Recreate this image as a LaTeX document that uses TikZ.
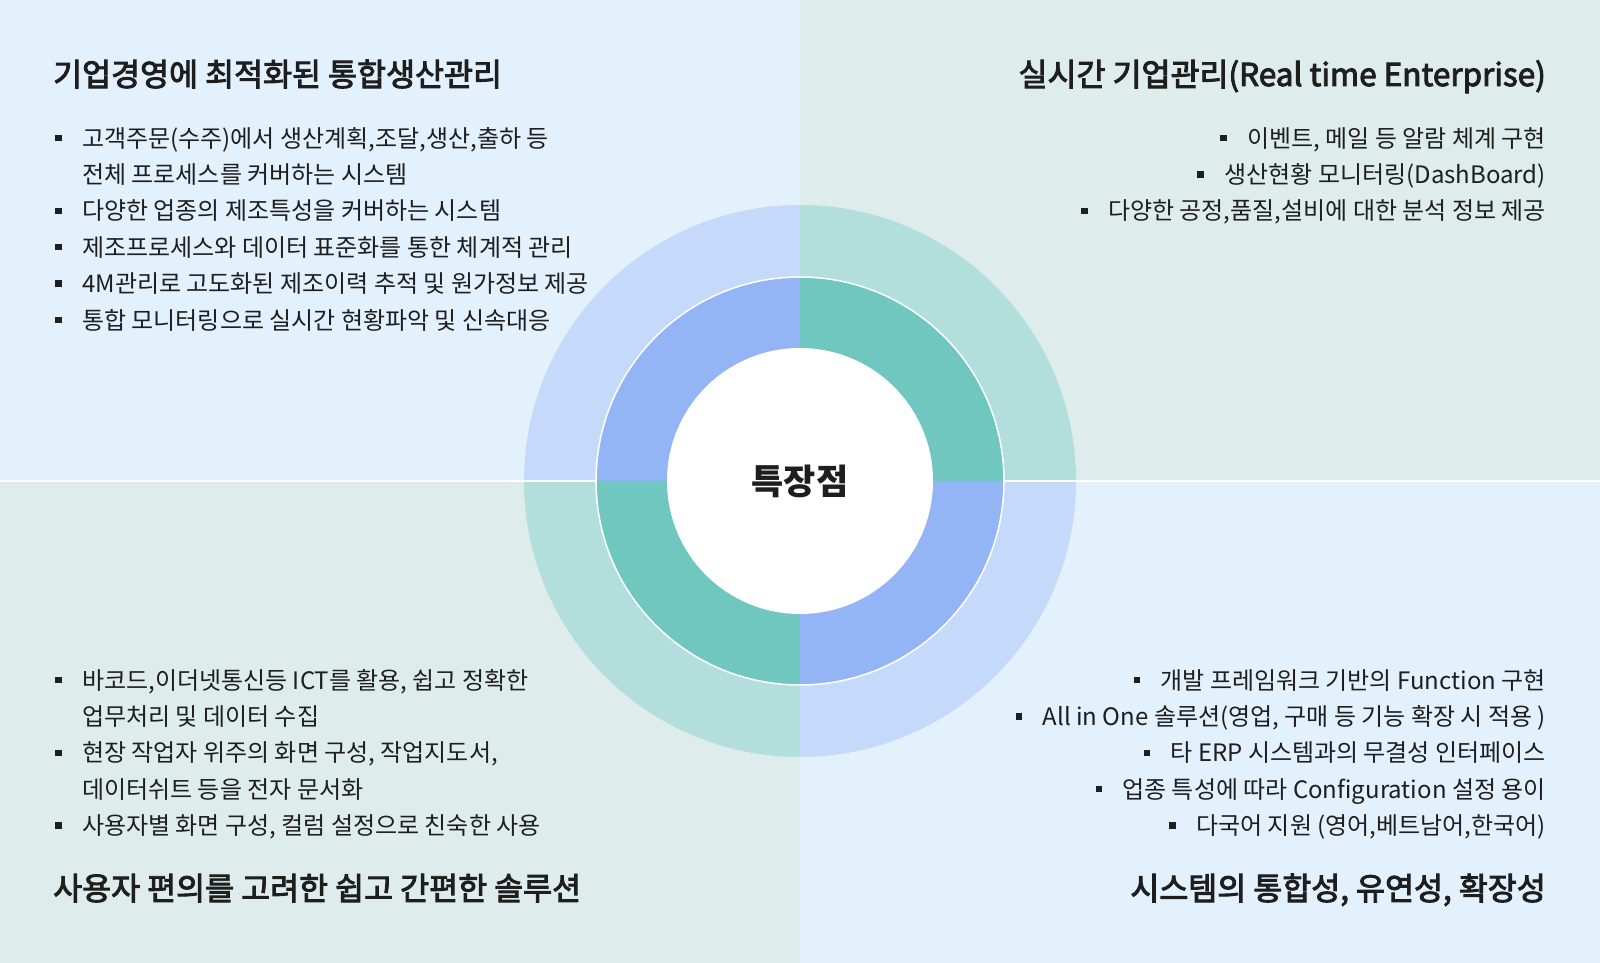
\documentclass[tikz,border=0pt]{standalone}
\usepackage{fontspec}
\setmainfont{Noto Sans CJK KR}
\newfontfamily\headfont{Noto Sans CJK KR}[FakeBold=3]
\usetikzlibrary{positioning}

\definecolor{bgblue}{HTML}{E3F1FD}
\definecolor{bggreen}{HTML}{DFECEC}
\definecolor{outblue}{HTML}{C5DAFA}
\definecolor{outgreen}{HTML}{B2DFDB}
\definecolor{midblue}{HTML}{94B5F5}
\definecolor{midgreen}{HTML}{6FC7C0}
\definecolor{ink}{HTML}{1E1E1E}

\tikzset{
  itemtxt/.style={inner sep=0pt, text height=21.1pt, text depth=2.9pt, text=ink,
    font=\fontsize{24}{28}\selectfont},
  headtxt/.style={itemtxt, text height=27.8pt, text depth=3.8pt,
    font=\headfont\fontsize{31.5}{36}\selectfont},
  sq/.style={fill=ink, minimum size=6.5pt, inner sep=0pt},
}

\begin{document}
\begin{tikzpicture}[x=1pt,y=1pt]
\useasboundingbox (0,0) rectangle (1600,963);
% four quarters
\fill[bgblue] (0,482) rectangle (800,963);
\fill[bggreen] (800,482) rectangle (1600,963);
\fill[bggreen] (0,0) rectangle (800,482);
\fill[bgblue] (800,0) rectangle (1600,482);

% rings
\coordinate (c) at (800,482);
\fill[outblue] (c) -- ++(90:276) arc (90:180:276) -- cycle;
\fill[outgreen] (c) -- ++(0:276) arc (0:90:276) -- cycle;
\fill[outgreen] (c) -- ++(180:276) arc (180:270:276) -- cycle;
\fill[outblue] (c) -- ++(270:276) arc (270:360:276) -- cycle;
\draw[white, line width=1.2pt] (0,482) -- (1600,482);
\draw[white, line width=1.5pt] (c) circle (204);
\fill[midblue] (c) -- ++(90:203) arc (90:180:203) -- cycle;
\fill[midgreen] (c) -- ++(0:203) arc (0:90:203) -- cycle;
\fill[midgreen] (c) -- ++(180:203) arc (180:270:203) -- cycle;
\fill[midblue] (c) -- ++(270:203) arc (270:360:203) -- cycle;
\fill[white] (c) circle (133);
\node[itemtxt, text height=30.8pt, text depth=4.2pt, font=\fontsize{35}{40}\selectfont\bfseries] (core) at (c) {특장점};

% top left
\node[headtxt, anchor=west] (tl) at (53,889) {기업경영에 최적화된 통합생산관리};
\node[itemtxt, anchor=west] (a1) at (82,825) {고객주문(수주)에서 생산계획,조달,생산,출하 등};
\node[itemtxt, below right=12pt and 0pt of a1.south west] (a1b) {전체 프로세스를 커버하는 시스템};
\node[itemtxt, below right=12pt and 0pt of a1b.south west] (a2) {다양한 업종의 제조특성을 커버하는 시스템};
\node[itemtxt, below right=12pt and 0pt of a2.south west] (a3) {제조프로세스와 데이터 표준화를 통한 체계적 관리};
\node[itemtxt, below right=12pt and 0pt of a3.south west] (a4) {4M관리로 고도화된 제조이력 추적 및 원가정보 제공};
\node[itemtxt, below right=12pt and 0pt of a4.south west] (a5) {통합 모니터링으로 실시간 현황파악 및 신속대응};
\foreach \n in {a1,a2,a3,a4,a5}
  \node[sq, left=20pt of \n] {};

% top right
\node[headtxt, anchor=east] (tr) at (1546,889) {실시간 기업관리(Real time Enterprise)};
\node[itemtxt, anchor=east] (b1) at (1546,825) {이벤트, 메일 등 알람 체계 구현};
\node[itemtxt, below left=12pt and 0pt of b1.south east] (b2) {생산현황 모니터링(DashBoard)};
\node[itemtxt, below left=12pt and 0pt of b2.south east] (b3) {다양한 공정,품질,설비에 대한 분석 정보 제공};
\foreach \n in {b1,b2,b3}
  \node[sq, left=20pt of \n] {};

% bottom left
\node[itemtxt, anchor=west] (c1) at (82,283) {바코드,이더넷통신등 ICT를 활용, 쉽고 정확한};
\node[itemtxt, below right=12pt and 0pt of c1.south west] (c1b) {업무처리 및 데이터 수집};
\node[itemtxt, below right=12pt and 0pt of c1b.south west] (c2) {현장 작업자 위주의 화면 구성, 작업지도서,};
\node[itemtxt, below right=12pt and 0pt of c2.south west] (c2b) {데이터쉬트 등을 전자 문서화};
\node[itemtxt, below right=12pt and 0pt of c2b.south west] (c3) {사용자별 화면 구성, 컬럼 설정으로 친숙한 사용};
\foreach \n in {c1,c2,c3}
  \node[sq, left=20pt of \n] {};
\node[headtxt, anchor=west] (bl) at (53,75) {사용자 편의를 고려한 쉽고 간편한 솔루션};

% bottom right
\node[itemtxt, anchor=east] (d1) at (1546,283) {개발 프레임워크 기반의 Function 구현};
\node[itemtxt, below left=12pt and 0pt of d1.south east] (d2) {All in One 솔루션(영업, 구매 등 기능 확장 시 적용 )};
\node[itemtxt, below left=12pt and 0pt of d2.south east] (d3) {타 ERP 시스템과의 무결성 인터페이스};
\node[itemtxt, below left=12pt and 0pt of d3.south east] (d4) {업종 특성에 따라 Configuration 설정 용이};
\node[itemtxt, below left=12pt and 0pt of d4.south east] (d5) {다국어 지원 (영어,베트남어,한국어)};
\foreach \n in {d1,d2,d3,d4,d5}
  \node[sq, left=20pt of \n] {};
\node[headtxt, anchor=east] (br) at (1546,75) {시스템의 통합성, 유연성, 확장성};
\end{tikzpicture}
\end{document}
